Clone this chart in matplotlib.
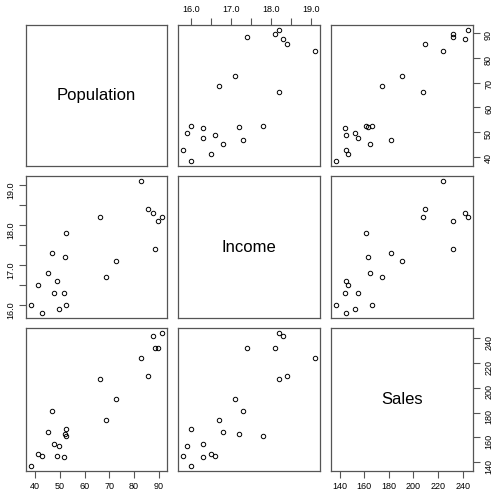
import matplotlib.pyplot as plt
import numpy as np

# Data (Dwaine Studios style: target population, disposable income, sales)
population = [68.5, 45.2, 91.3, 47.8, 46.9, 66.1, 49.5, 52.0, 48.9, 38.4, 87.9,
              72.8, 88.4, 42.9, 52.5, 85.7, 41.3, 51.7, 89.6, 82.7, 52.3]
income = [16.7, 16.8, 18.2, 16.3, 17.3, 18.2, 15.9, 17.2, 16.6, 16.0, 18.3,
          17.1, 17.4, 15.8, 17.8, 18.4, 16.5, 16.3, 18.1, 19.1, 16.0]
sales = [174.4, 164.4, 244.2, 154.6, 181.6, 207.5, 152.8, 163.2, 145.4, 137.2, 241.9,
         191.1, 232.0, 145.3, 161.1, 209.7, 146.4, 144.0, 232.6, 224.1, 166.5]

names = ["Population", "Income", "Sales"]
pop_ticks = [40, 50, 60, 70, 80, 90]
inc_ticks = [16.0, 16.5, 17.0, 17.5, 18.0, 18.5, 19.0]
inc_labels = ["16.0", "", "17.0", "", "18.0", "", "19.0"]
sales_ticks = [140, 160, 180, 200, 220, 240]

data = [population, income, sales]
ticks = [pop_ticks, inc_ticks, sales_ticks]
labels = [[str(t) for t in pop_ticks], inc_labels, [str(t) for t in sales_ticks]]

plt.rcParams['font.family'] = ['Liberation Sans', 'DejaVu Sans']

W, H = 495, 493
cols = [(26, 167), (178, 320), (331, 473)]
rows = [(25, 166), (176, 318), (328, 471)]
frame = "#555555"


def lims(v):
    lo, hi = min(v), max(v)
    pad = 0.04 * (hi - lo)
    return lo - pad, hi + pad


fig = plt.figure(figsize=(W / 100, H / 100), dpi=100)

for i in range(3):
    for j in range(3):
        x0, x1 = cols[j]
        y0, y1 = rows[i]
        ax = fig.add_axes([x0 / W, 1 - y1 / H, (x1 - x0) / W, (y1 - y0) / H])
        ax.set_xlim(lims(data[j]))
        ax.set_ylim(lims(data[i]))
        if i == j:
            ax.text(0.5, 0.5, names[i], transform=ax.transAxes,
                    ha="center", va="center", fontsize=12)
        else:
            ax.plot(data[j], data[i], "o", ms=3.2, mfc="none", mec="black", mew=0.7)

        for s in ax.spines.values():
            s.set_color(frame)
            s.set_linewidth(0.9)

        ax.tick_params(which="both", bottom=False, top=False, left=False, right=False,
                       labelbottom=False, labeltop=False, labelleft=False, labelright=False,
                       direction="out", length=5, width=0.8, color=frame,
                       labelsize=6.5, pad=3)

        ax.set_xticks(ticks[j])
        ax.set_xticklabels(labels[j])
        ax.set_yticks(ticks[i])
        ax.set_yticklabels(labels[i])

        if i == 0 and j % 2 == 1:
            ax.tick_params(axis="x", top=True, labeltop=True)
        if i == 2 and j % 2 == 0:
            ax.tick_params(axis="x", bottom=True, labelbottom=True)
        if j == 0 and i % 2 == 1:
            ax.tick_params(axis="y", left=True, labelleft=True, labelrotation=90)
        if j == 2 and i % 2 == 0:
            ax.tick_params(axis="y", right=True, labelright=True, labelrotation=90)

plt.savefig("out.png", dpi=100)
